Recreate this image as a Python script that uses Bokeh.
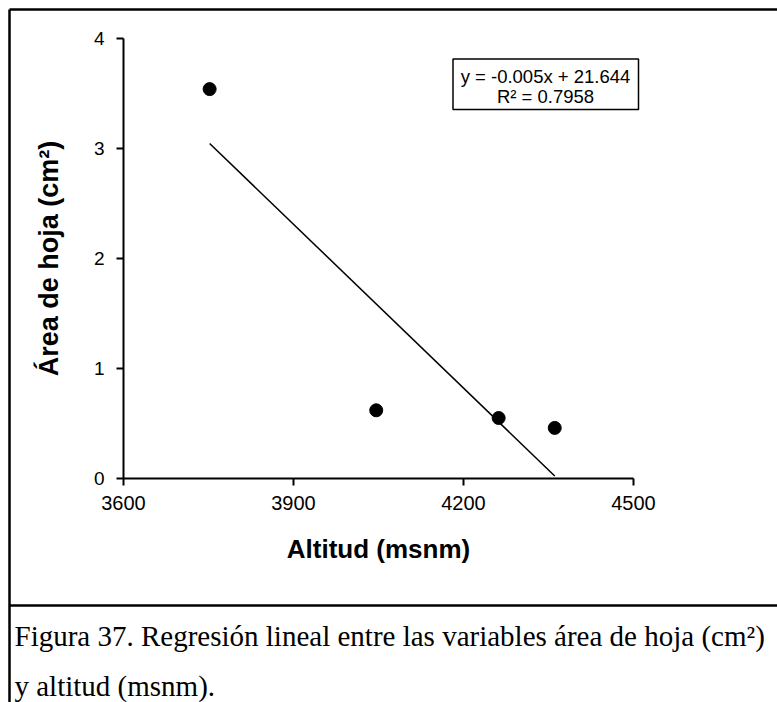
import numpy as np
from bokeh.plotting import figure
from bokeh.models import Range1d, FixedTicker
from bokeh.core.properties import value
from bokeh.embed import file_html
from bokeh.resources import INLINE

# ---- data ----
altitud = [3752, 4046, 4262, 4361]          # msnm
area_hoja = [3.54, 0.62, 0.55, 0.46]        # cm2
x_ticks = [3600, 3900, 4200, 4500]
y_ticks = [0, 1, 2, 3, 4]
eq_text = "y = -0.005x + 21.644"
r2_text = "R\u00b2 = 0.7958"
x_title = "Altitud (msnm)"
y_title = "\u00c1rea de hoja (cm\u00b2)"
caption_1 = "Figura 37. Regresi\u00f3n lineal entre las variables \u00e1rea de hoja (cm\u00b2)"
caption_2 = "y altitud (msnm)."

# ---- layout (canvas pixels) ----
W, H = 777, 702
AX_L, AX_R = 123, 633      # pixel x of 3600 and 4500
AX_B, AX_T = 478, 38       # pixel y of 0 and 4
X0, X1, Y0, Y1 = 3600, 4500, 0, 4
SX = (AX_R - AX_L) / (X1 - X0)
SY = (AX_B - AX_T) / (Y1 - Y0)


def dx(px):  # canvas px -> data x
    return X0 + (px - AX_L) / SX


def dy(py):  # canvas px -> data y
    return Y0 + (AX_B - py) / SY


p = figure(width=W, height=H, output_backend="svg", toolbar_location=None,
           x_range=Range1d(dx(0), dx(W)), y_range=Range1d(dy(H), dy(0)),
           min_border=0, min_border_left=0, min_border_right=0,
           min_border_top=0, min_border_bottom=0)
p.outline_line_color = None
p.grid.visible = False
p.background_fill_color = "white"
p.border_fill_color = "white"

xa, ya = p.xaxis[0], p.yaxis[0]
xa.fixed_location = Y0
ya.fixed_location = X0
xa.bounds = (X0, X1)
ya.bounds = (Y0, Y1)
for ax in (xa, ya):
    ax.axis_line_width = 2
    ax.axis_line_color = "black"
    ax.major_tick_line_width = 2
    ax.major_tick_line_color = "black"
    ax.major_tick_in = 0
    ax.major_tick_out = 7
    ax.minor_tick_in = 0
    ax.minor_tick_out = 0
    ax.major_label_text_color = "black"
    ax.major_label_text_font = "Liberation Sans"
    ax.axis_label_text_color = "black"
    ax.axis_label_text_font = "Liberation Sans"
    ax.axis_label_text_font_style = "bold"

xa.ticker = FixedTicker(ticks=x_ticks)
ya.ticker = FixedTicker(ticks=y_ticks)
xa.major_label_text_font_size = "20px"
ya.major_label_text_font_size = "19px"
xa.major_label_standoff = 10
ya.major_label_standoff = 12
xa.axis_label = x_title
ya.axis_label = y_title
xa.axis_label_text_font_size = "26px"
ya.axis_label_text_font_size = "27px"
xa.axis_label_standoff = 21
ya.axis_label_standoff = 27

# frame borders of the figure cell
p.segment(x0=[dx(9), dx(9), dx(9)], y0=[dy(9), dy(9), dy(605)],
          x1=[dx(W + 5), dx(9), dx(W + 5)], y1=[dy(9), dy(H + 5), dy(605)],
          line_color="black", line_width=2.5)

# regression line
slope, intercept = np.polyfit(altitud, area_hoja, 1)
xs = [min(altitud), max(altitud)]
ys = [slope * v + intercept for v in xs]
p.line(xs, ys, line_color="black", line_width=1.5)

p.scatter(altitud, area_hoja, size=13, fill_color="black", line_color="black")

# equation box
p.quad(left=[dx(452.5)], right=[dx(638)], top=[dy(58.5)], bottom=[dy(109)],
       fill_color="white", line_color="black", line_width=1.5)
p.text(x=[dx(545), dx(545)], y=[dy(76), dy(96)], text=[eq_text, r2_text],
       text_align="center", text_baseline="middle",
       text_font=value("Liberation Sans"), text_font_size="18.5px",
       text_color="black")

# caption
p.text(x=[dx(14), dx(14)], y=[dy(635), dy(685)], text=[caption_1, caption_2],
       text_align="left", text_baseline="alphabetic",
       text_font=value("Liberation Serif"), text_font_size="29px",
       text_color="black")

open("out.html", "w").write(file_html(p, INLINE))
